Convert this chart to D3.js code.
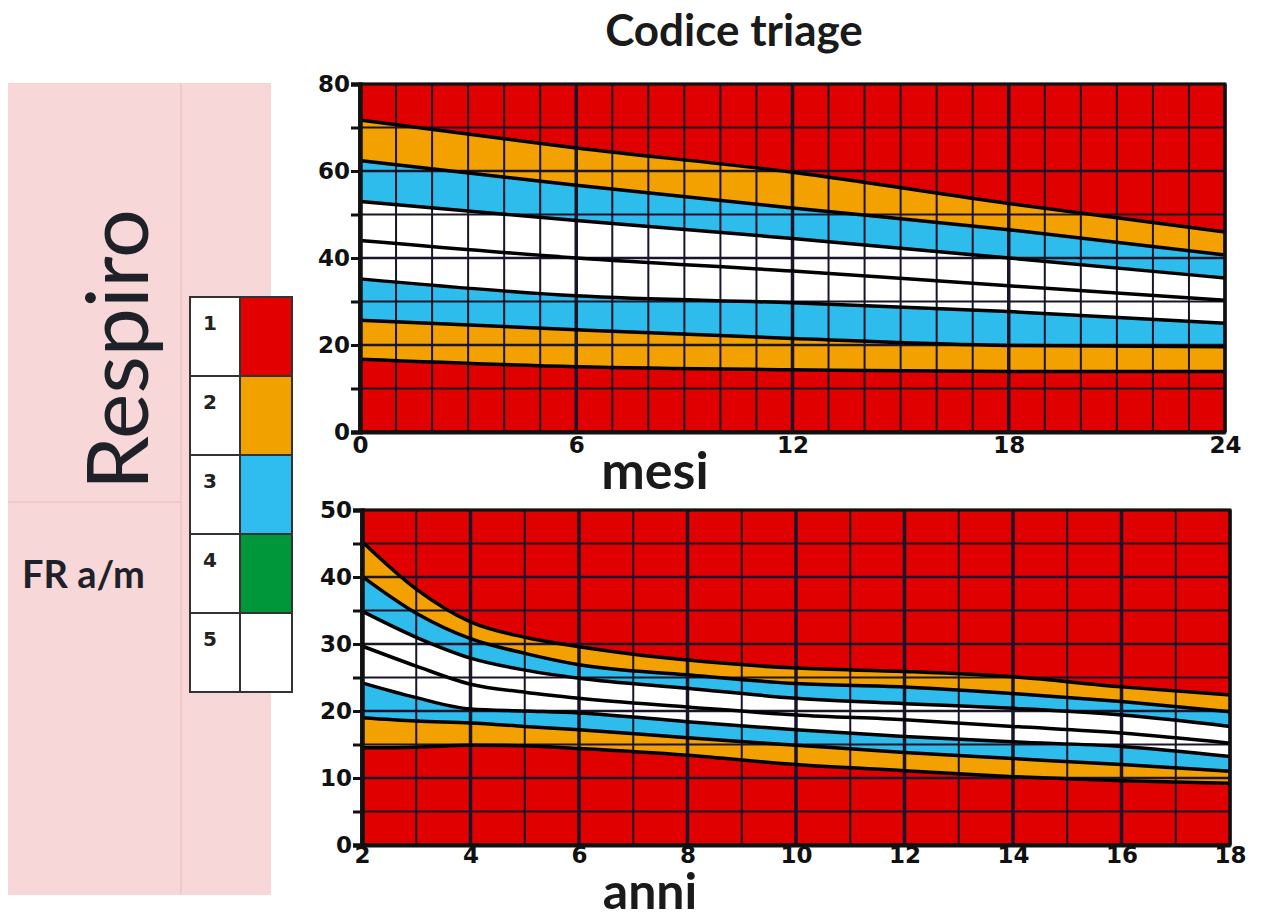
<!DOCTYPE html>
<html>
<head>
<meta charset="utf-8">
<script src="https://cdn.jsdelivr.net/npm/d3@7"></script>
<style>
  body { margin: 0; background: #fff; }
  svg { display: block; }
</style>
</head>
<body>
<div id="chart"></div>
<script>
// ---- data ----
// top panel: months 0-24, respiratory rate band limits
var mesi = [0, 6, 12, 18, 24];
var mesiRossoAlto = [71.7, 65.3, 59.7, 52.5, 46.0];
var mesiArancioAlto = [62.4, 56.7, 51.5, 46.5, 40.7];
var mesiAzzurroAlto = [53.0, 48.6, 44.5, 40.0, 35.4];
var mesiMediana = [44.0, 40.0, 37.0, 33.6, 30.3];
var mesiAzzurroBasso = [35.2, 31.3, 29.7, 27.7, 25.0];
var mesiArancioBasso = [25.7, 23.5, 21.5, 19.9, 19.6];
var mesiRossoBasso = [16.7, 15.0, 14.3, 13.9, 13.9];

// bottom panel: years 2-18
var anni = [2, 3, 4, 5, 6, 8, 10, 12, 14, 16, 18];
var anniRossoAlto = [45.3, 38.2, 33.3, 31.0, 29.6, 27.6, 26.4, 25.9, 25.1, 23.6, 22.4];
var anniArancioAlto = [40.1, 34.6, 30.8, 28.6, 26.9, 25.4, 24.1, 23.6, 22.6, 21.4, 19.9];
var anniAzzurroAlto = [34.9, 31.0, 27.9, 26.1, 24.9, 23.4, 21.9, 21.1, 20.4, 19.4, 17.7];
var anniMediana = [29.7, 26.7, 24.0, 22.8, 21.9, 20.6, 19.4, 18.7, 17.7, 16.7, 15.2];
var anniAzzurroBasso = [24.2, 22.0, 20.3, 20.0, 19.7, 18.4, 17.2, 16.2, 15.4, 14.7, 13.2];
var anniArancioBasso = [19.0, 18.5, 18.2, 17.7, 17.2, 16.0, 14.9, 13.8, 12.9, 12.0, 11.0];
var anniRossoBasso = [14.5, 14.6, 14.9, 14.8, 14.4, 13.4, 12.0, 11.1, 10.2, 9.6, 9.2];

// ticks
var mesiTicks = [0, 6, 12, 18, 24];
var topYTicks = [0, 20, 40, 60, 80];
var topYMinor = [10, 30, 50, 70];
var anniTicks = [2, 4, 6, 8, 10, 12, 14, 16, 18];
var botYTicks = [0, 10, 20, 30, 40, 50];
var botYMinor = [5, 15, 25, 35, 45];

// legend (codice triage)
var legendCodes = ["1", "2", "3", "4", "5"];
var legendColors = ["#e30000", "#f2a200", "#2ebdee", "#00963a", "#ffffff"];

var RED = "#e10000", ORANGE = "#f2a100", BLUE = "#2dbcec", WHITE = "#ffffff";
var GRID = "#1c1428";

var svg = d3.select("#chart").append("svg")
  .attr("width", 1263).attr("height", 922);

// ---- left pink panel ----
svg.append("rect").attr("x", 8).attr("y", 83).attr("width", 263).attr("height", 812)
  .attr("fill", "#f7d7d8");
svg.append("line").attr("x1", 181).attr("x2", 181).attr("y1", 83).attr("y2", 895)
  .attr("stroke", "#efc5c5").attr("stroke-width", 1.5);
svg.append("line").attr("x1", 8).attr("x2", 181).attr("y1", 502).attr("y2", 502)
  .attr("stroke", "#efc5c5").attr("stroke-width", 1.5);

svg.append("text")
  .attr("transform", "translate(148,490) rotate(-90)")
  .attr("font-family", "Lato, 'Open Sans', sans-serif")
  .attr("font-weight", 400)
  .attr("font-size", 86)
  .attr("fill", "#1e2228")
  .text("Respiro");

svg.append("text")
  .attr("x", 22).attr("y", 588)
  .attr("font-family", "Lato, sans-serif")
  .attr("font-weight", 700)
  .attr("font-size", 38)
  .attr("fill", "#1e2228")
  .text("FR a/m");

// legend table
var legY = d3.scaleBand().domain(legendCodes).range([297, 692]);
var leg = svg.append("g");
legendCodes.forEach(function(code, i) {
  var y0 = legY(code);
  leg.append("rect").attr("x", 190).attr("y", y0).attr("width", 50).attr("height", legY.bandwidth())
    .attr("fill", "#fff").attr("stroke", "#333").attr("stroke-width", 2);
  leg.append("rect").attr("x", 240).attr("y", y0).attr("width", 52).attr("height", legY.bandwidth())
    .attr("fill", legendColors[i]).attr("stroke", "#333").attr("stroke-width", 2);
  leg.append("text").attr("x", 203).attr("y", y0 + 33)
    .attr("font-family", "'DejaVu Sans', sans-serif").attr("font-weight", 700)
    .attr("font-size", 20).attr("fill", "#222").text(code);
});

// ---- titles ----
svg.append("text").attr("x", 734).attr("y", 46).attr("text-anchor", "middle")
  .attr("font-family", "Lato, sans-serif").attr("font-weight", 700).attr("font-size", 44)
  .attr("fill", "#1a1a1a").text("Codice triage");
svg.append("text").attr("x", 655).attr("y", 489).attr("text-anchor", "middle")
  .attr("font-family", "Lato, sans-serif").attr("font-weight", 700).attr("font-size", 52)
  .attr("fill", "#1a1a1a").text("mesi");
svg.append("text").attr("x", 650).attr("y", 909).attr("text-anchor", "middle")
  .attr("font-family", "Lato, sans-serif").attr("font-weight", 700).attr("font-size", 50)
  .attr("fill", "#1a1a1a").text("anni");

// ---- one band chart ----
function drawPanel(opts) {
  var x = opts.x, y = opts.y, xs = opts.xs, L = opts.lines;
  var g = svg.append("g");
  var x0 = x.range()[0], x1 = x.range()[1], yTop = y.range()[1], yBot = y.range()[0];

  g.append("rect").attr("x", x0).attr("y", yTop).attr("width", x1 - x0).attr("height", yBot - yTop)
    .attr("fill", RED);

  function band(upper, lower, color) {
    var area = d3.area()
      .x(function(d, i) { return x(xs[i]); })
      .y0(function(d, i) { return y(lower[i]); })
      .y1(function(d, i) { return y(upper[i]); })
      .curve(d3.curveMonotoneX);
    g.append("path").datum(xs).attr("d", area).attr("fill", color);
  }
  band(L[0], L[6], ORANGE);
  band(L[1], L[5], BLUE);
  band(L[2], L[4], WHITE);

  // grid
  d3.range(opts.xDomainGrid[0], opts.xDomainGrid[1] + 0.001, opts.xStep).forEach(function(v) {
    var thick = opts.isMajorX(v);
    g.append("line").attr("x1", x(v)).attr("x2", x(v)).attr("y1", yTop).attr("y2", yBot)
      .attr("stroke", GRID).attr("stroke-width", thick ? 3.5 : 2);
  });
  d3.range(y.domain()[0], y.domain()[1] + 0.001, opts.yStep).forEach(function(v) {
    g.append("line").attr("x1", x0).attr("x2", x1).attr("y1", y(v)).attr("y2", y(v))
      .attr("stroke", GRID).attr("stroke-width", opts.isMajorY(v) ? 2.6 : 2);
  });

  // band boundaries
  var line = d3.line()
    .x(function(d, i) { return x(xs[i]); })
    .y(function(d) { return y(d); })
    .curve(d3.curveMonotoneX);
  L.forEach(function(arr) {
    g.append("path").datum(arr).attr("d", line).attr("fill", "none")
      .attr("stroke", "#000").attr("stroke-width", 3.5);
  });

  // frame
  g.append("rect").attr("x", x0).attr("y", yTop).attr("width", x1 - x0).attr("height", yBot - yTop)
    .attr("fill", "none").attr("stroke", "#111").attr("stroke-width", 3);

  // axes
  g.append("g").attr("transform", "translate(" + x0 + ",0)")
    .call(d3.axisLeft(y).tickValues(opts.yTicks).tickSize(9).tickPadding(1));
  g.append("g").attr("transform", "translate(" + x0 + ",0)")
    .call(d3.axisLeft(y).tickValues(opts.yMinor).tickSize(9).tickFormat(""));
  g.append("g").attr("transform", "translate(0," + yBot + ")")
    .call(d3.axisBottom(x).tickValues(opts.xTicks).tickSize(0).tickPadding(opts.xPad));

  g.selectAll(".domain").attr("stroke", "#111").attr("stroke-width", 4);
  g.selectAll(".tick line").attr("stroke", "#111").attr("stroke-width", 3);
  g.selectAll(".tick text")
    .attr("font-family", "'DejaVu Sans', sans-serif")
    .attr("font-weight", 700)
    .attr("font-size", 23)
    .attr("fill", "#111");
}

drawPanel({
  x: d3.scaleLinear().domain([0, 24]).range([360, 1225]),
  y: d3.scaleLinear().domain([0, 80]).range([432, 84]),
  xs: mesi,
  lines: [mesiRossoAlto, mesiArancioAlto, mesiAzzurroAlto, mesiMediana,
          mesiAzzurroBasso, mesiArancioBasso, mesiRossoBasso],
  xDomainGrid: [0, 24], xStep: 1,
  isMajorX: function(v) { return v % 6 === 0; },
  yStep: 10,
  isMajorY: function(v) { return v % 20 === 0; },
  yTicks: topYTicks, yMinor: topYMinor,
  xTicks: mesiTicks, xPad: 5
});

drawPanel({
  x: d3.scaleLinear().domain([2, 18]).range([362, 1230]),
  y: d3.scaleLinear().domain([0, 50]).range([845, 510]),
  xs: anni,
  lines: [anniRossoAlto, anniArancioAlto, anniAzzurroAlto, anniMediana,
          anniAzzurroBasso, anniArancioBasso, anniRossoBasso],
  xDomainGrid: [2, 18], xStep: 1,
  isMajorX: function(v) { return v % 2 === 0; },
  yStep: 5,
  isMajorY: function(v) { return v % 10 === 0; },
  yTicks: botYTicks, yMinor: botYMinor,
  xTicks: anniTicks, xPad: 2
});
</script>
</body>
</html>
